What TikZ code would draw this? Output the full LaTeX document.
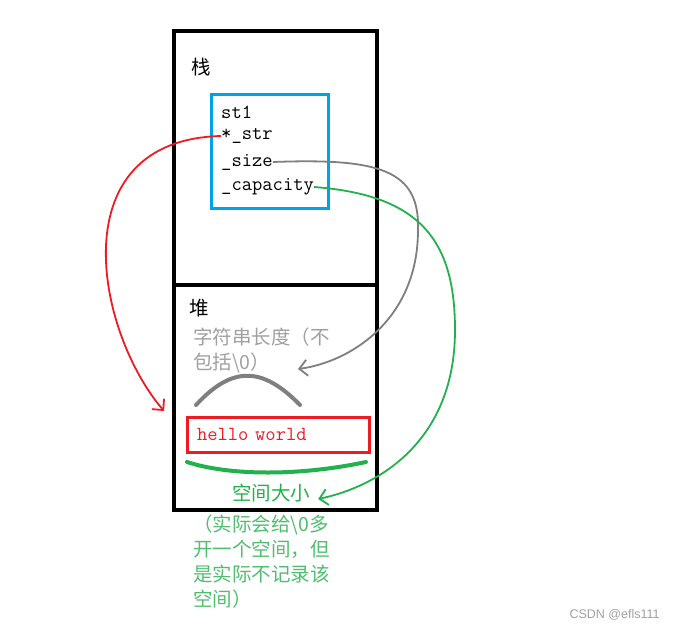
\documentclass[tikz,border=0pt]{standalone}
\usepackage{fontspec}
\usepackage{xcolor}
\usepackage{tikz}
\usetikzlibrary{arrows.meta,positioning}
\newfontfamily\cjkfont{Noto Sans CJK SC}
\newfontfamily\markfont{Liberation Sans}
\definecolor{memBlue}{RGB}{0,162,232}
\definecolor{memRed}{RGB}{237,28,36}
\definecolor{memGray}{RGB}{127,127,127}
\definecolor{memGrayText}{RGB}{160,160,160}
\definecolor{memGreen}{RGB}{34,177,76}
\definecolor{memGreenText}{RGB}{80,190,110}

\begin{document}
\begin{tikzpicture}[x=1pt,y=-1pt,
    field/.style={anchor=west, inner sep=0pt, font=\ttfamily\fontsize{20}{20}\selectfont},
    cjk/.style={inner sep=0pt, font=\cjkfont\fontsize{19.5}{25}\selectfont, align=left},
    hand/.style={line width=1.8pt, -{Straight Barb[length=8pt,width=16pt]}}]
    \useasboundingbox[fill=white] (0,0) rectangle (675,630);
    % memory frame
    \draw[line width=4pt] (174,31) rectangle (377,510);
    \draw[line width=4pt] (172,285) -- (379,285);
    \node[cjk, anchor=west] (stacklbl) at (191,67) {栈};
    \node[cjk, anchor=west] (heaplbl) at (189,308) {堆};
    % the string object on the stack
    \draw[memBlue, line width=3pt] (211,94) rectangle (328,208);
    \node[field] (st1) at (221,112) {st1};
    \node[field] (str) at (221,136) {*\_str};
    \node[field] (size) at (221,162) {\_size};
    \node[field] (capacity) at (221,187) {\_capacity};
    % heap contents
    \node[cjk, anchor=north west, text=memGrayText] (lenlbl) at (193,328)
        {字符串长度（不\\包括\textbackslash0）};
    \draw[memGray, line width=4pt, line cap=round] (196,405) .. controls (232,366) and (262,366) .. (300,405);
    \node[draw=memRed, line width=3pt, text=memRed, minimum height=35pt, text width=162pt,
        inner xsep=10pt, align=left, font=\ttfamily\fontsize{20}{20}\selectfont] (hello) at (278,434.5) {hello world};
    \draw[memGreen, line width=4pt, line cap=round] (187,462) .. controls (230,476) and (300,476) .. (366,462);
    \node[cjk, text=memGreen] (spacelbl) at (271,493) {空间大小};
    \node[cjk, anchor=north west, text=memGreenText] (notelbl) at (193,515)
        {（实际会给\textbackslash0多\\开一个空间，但\\是实际不记录该\\空间）};
    \node[text=memGrayText, font=\markfont\fontsize{12.5}{12.5}\selectfont, anchor=west] (csdn) at (566,615) {CSDN @efls111};
    % pointers
    \coordinate (strtip) at (164,411);
    \coordinate (lentip) at (298,369);
    \draw[memRed, hand] (str.west) .. controls (60,140) and (95,330) .. (strtip);
    \draw[memGray, hand] (size.east) .. controls (380,158) and (420,170) .. (418,230)
        .. controls (418,320) and (350,362) .. (lentip);
    \draw[memGreen, hand] (capacity.east) .. controls (420,195) and (455,240) .. (455,330)
        .. controls (455,440) and (380,486) .. ([xshift=8pt,yshift=-6pt]spacelbl.east);
\end{tikzpicture}
\end{document}
